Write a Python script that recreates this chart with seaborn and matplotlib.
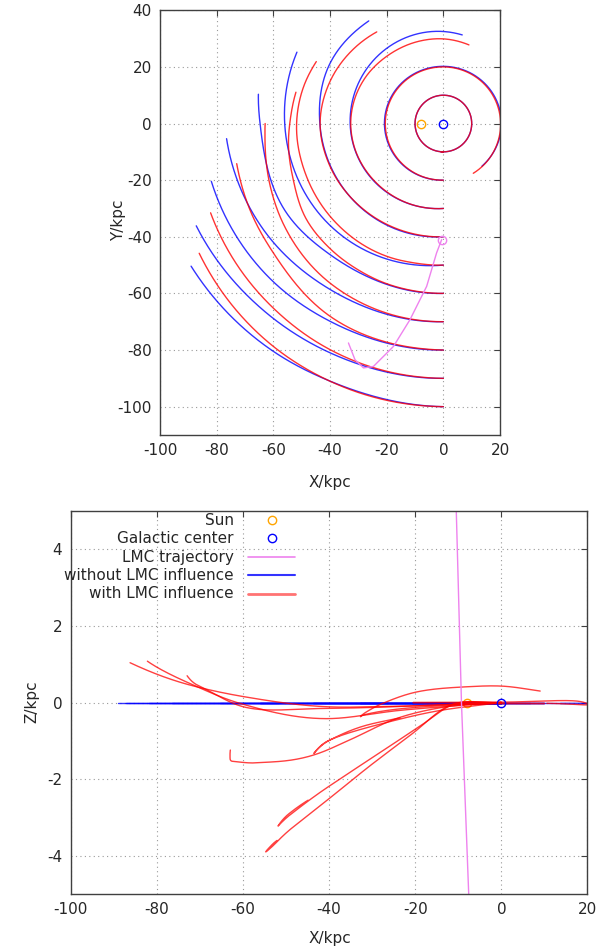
import numpy as np
import pandas as pd
import matplotlib
matplotlib.use("Agg")
import matplotlib.pyplot as plt
import seaborn as sns

# ---------------- data ----------------
orbit_R = [10, 20, 30, 40, 50, 60, 70, 80, 90, 100]

# orbits without LMC influence: polar control points (angle deg, radius kpc)
blue_theta = {10: [270, -95], 20: [270, 180, 90, 0, -48], 30: [270, 180, 90, 78],
              40: [270, 180, 152, 126], 50: [270, 219, 180, 154],
              60: [270, 229, 210, 180, 171], 70: [270, 235, 210, 184],
              80: [270, 240, 223, 194], 90: [270, 244, 227, 202.5],
              100: [270, 246, 233, 209.5]}
blue_r = {10: [10, 10], 20: [20, 20.8, 20.2, 20.5, 20.3], 30: [30, 32.9, 32.5, 32.0],
          40: [40, 43.6, 45.3, 44.8], 50: [50, 54, 56, 57.5],
          60: [60, 61.2, 63.7, 64.7, 66.1], 70: [70, 71, 73.8, 76.7],
          80: [80, 80.5, 82, 84.4], 90: [90, 90.3, 91.5, 94.4],
          100: [100, 99.4, 100.4, 102.3]}

# orbits with LMC influence: angle, radius and height Z
red_theta = {10: [270, -95], 20: [270, 180, 90, 30, 0, -59],
             30: [270, 225, 190, 180, 165, 150, 129, 106, 90, 72],
             40: [270, 250, 225, 200, 180, 160, 140, 126],
             50: [270, 256, 250, 219, 200, 180, 165, 154],
             60: [270, 258, 250, 240, 228, 215, 200, 188, 178, 168],
             70: [270, 260, 250, 240, 233, 213, 200, 188, 185, 180],
             80: [270, 240, 217, 205, 195, 191],
             90: [270, 255, 243, 227, 215, 201],
             100: [270, 255, 246, 233, 223, 208]}
red_r = {10: [10, 10], 20: [20, 20.5, 20, 20.1, 20.2, 20.5],
         30: [30, 31.5, 32.6, 32.7, 32.5, 32, 31, 30.3, 29.9, 29.2],
         40: [40, 40.5, 41.5, 42.8, 43.5, 42.7, 41.2, 40],
         50: [50, 50.4, 50.8, 51.7, 51.8, 51.8, 51, 49.9],
         60: [60, 60, 60, 59.8, 59.6, 59, 56.5, 55.2, 54, 53.2],
         70: [70, 70, 69.8, 69.4, 69, 66.8, 65, 63.5, 63.2, 62.9],
         80: [80, 79, 75.4, 74.8, 74.4, 74.3],
         90: [90, 89.7, 89.3, 88.6, 88.3, 88],
         100: [100, 99.7, 99.4, 99, 98.5, 97.6]}
red_z = {10: [0, 0], 20: [0, 0, 0.01, 0.04, -0.05, -0.02],
         30: [0, -0.15, -0.33, -0.37, -0.25, -0.03, 0.28, 0.41, 0.43, 0.3],
         40: [0, -0.2, -0.6, -1.0, -1.33, -1.0, -0.6, -0.4],
         50: [0, -0.1, -0.5, -2.2, -2.9, -3.22, -2.9, -2.55],
         60: [0, -0.1, -0.8, -1.6, -2.5, -3.25, -3.75, -3.9, -3.8, -3.6],
         70: [0, -0.1, -0.4, -0.95, -1.29, -1.57, -1.55, -1.5, -1.46, -1.24],
         80: [0, -0.15, -0.1, 0.3, 0.56, 0.7],
         90: [0, -0.2, -0.42, -0.03, 0.5, 1.08],
         100: [0, -0.1, -0.11, 0.15, 0.45, 1.04]}

# LMC trajectory
lmc_x = [-0.6, -2.4, -5.9, -11.8, -17.6, -24.7, -28.2, -31.2, -33.5]
lmc_y = [-41, -45.7, -57.5, -69.3, -78.7, -85.8, -86.3, -83.4, -77.5]
lmc_xz_x = [-10.5, -9.25, -7.5]
lmc_xz_z = [5.2, 0.0, -5.2]

sun_xyz = (-8.0, 0.0, 0.0)
gc_xyz = (0.0, 0.0, 0.0)

legend_labels = ["Sun", "Galactic center", "LMC trajectory",
                 "without LMC influence", "with LMC influence"]


# ---------------- helpers ----------------
def hermite(x, xp, fp):
    xp = np.asarray(xp, float)
    fp = np.asarray(fp, float)
    if len(xp) > 2:
        m = np.gradient(fp, xp)
    else:
        m = np.full(len(xp), (fp[1] - fp[0]) / (xp[1] - xp[0]))
    idx = np.clip(np.searchsorted(xp, x) - 1, 0, len(xp) - 2)
    h = xp[idx + 1] - xp[idx]
    t = (x - xp[idx]) / h
    h00 = 2 * t**3 - 3 * t**2 + 1
    h10 = t**3 - 2 * t**2 + t
    h01 = -2 * t**3 + 3 * t**2
    h11 = t**3 - t**2
    return h00 * fp[idx] + h10 * h * m[idx] + h01 * fp[idx + 1] + h11 * h * m[idx + 1]


def build(th_c, r_c, z_c=None, n=700):
    th = np.linspace(th_c[0], th_c[-1], n)
    tc = np.array(th_c[::-1], float)
    r = hermite(th, tc, np.array(r_c[::-1], float))
    z = np.zeros_like(th) if z_c is None else hermite(th, tc, np.array(z_c[::-1], float))
    rad = np.deg2rad(th)
    return r * np.cos(rad), r * np.sin(rad), z


frames = []
for R in orbit_R:
    x, y, z = build(blue_theta[R], blue_r[R])
    frames.append(pd.DataFrame({"X": x, "Y": y, "Z": z, "orbit": R, "kind": "without"}))
    x, y, z = build(red_theta[R], red_r[R], red_z[R])
    frames.append(pd.DataFrame({"X": x, "Y": y, "Z": z, "orbit": R, "kind": "with"}))
df = pd.concat(frames, ignore_index=True)
df_blue = df[df.kind == "without"]
df_red = df[df.kind == "with"]

lmc_top = pd.DataFrame({"X": lmc_x, "Y": lmc_y})
lmc_side = pd.DataFrame({"X": lmc_xz_x, "Z": lmc_xz_z})

# ---------------- style ----------------
sns.set_style("white")
plt.rcParams["font.family"] = ["DejaVu Sans"]
plt.rcParams["font.size"] = 11
plt.rcParams["axes.unicode_minus"] = False

BLUE = "#0000ff"
RED = "#ff0000"
PINK = "#ee82ee"
ORANGE = "#ffa500"
TXT = "#262626"

fig = plt.figure(figsize=(5.98, 9.51), dpi=100)
ax1 = fig.add_axes([0.2676, 0.5426, 0.5686, 0.4466])
ax2 = fig.add_axes([0.1179, 0.0599, 0.8645, 0.4027])


def style(ax):
    ax.grid(True, linestyle=(0, (1, 3)), color="#999999", linewidth=0.8)
    ax.set_axisbelow(True)
    for s in ax.spines.values():
        s.set_color("#404040")
        s.set_linewidth(1.0)
    ax.tick_params(direction="in", top=True, right=True, length=4.5, width=0.8,
                   pad=6, labelsize=11, colors="#404040", labelcolor=TXT)


# ---------------- top panel: X-Y ----------------
sns.lineplot(data=df_blue, x="X", y="Y", units="orbit", estimator=None, sort=False,
             color=BLUE, lw=1.0, alpha=0.8, ax=ax1, legend=False)
sns.lineplot(data=df_red, x="X", y="Y", units="orbit", estimator=None, sort=False,
             color=RED, lw=1.0, alpha=0.8, ax=ax1, legend=False)
sns.lineplot(data=lmc_top, x="X", y="Y", estimator=None, sort=False,
             color=PINK, lw=1.0, ax=ax1, legend=False)
ax1.plot([sun_xyz[0]], [sun_xyz[1]], "o", mfc="none", mec=ORANGE, ms=6, mew=1)
ax1.plot([gc_xyz[0]], [gc_xyz[1]], "o", mfc="none", mec=BLUE, ms=6, mew=1)
ax1.plot([lmc_x[0]], [lmc_y[0]], "o", mfc="none", mec=PINK, ms=6, mew=1)

ax1.set_xlim(-100, 20)
ax1.set_ylim(-110, 40)
ax1.set_xticks(np.arange(-100, 21, 20))
ax1.set_yticks(np.arange(-100, 41, 20))
style(ax1)
ax1.set_xlabel("X/kpc", color=TXT, fontsize=11)
ax1.set_ylabel("Y/kpc", color=TXT, fontsize=11)
ax1.xaxis.set_label_coords(0.5, -0.094)
ax1.yaxis.set_label_coords(-0.1, 0.506)

# ---------------- bottom panel: X-Z ----------------
sns.lineplot(data=df_blue, x="X", y="Z", units="orbit", estimator=None, sort=False,
             color=BLUE, lw=1.0, alpha=0.8, ax=ax2, legend=False)
sns.lineplot(data=df_red, x="X", y="Z", units="orbit", estimator=None, sort=False,
             color=RED, lw=1.0, alpha=0.75, ax=ax2, legend=False)
sns.lineplot(data=lmc_side, x="X", y="Z", estimator=None, sort=False,
             color=PINK, lw=1.0, ax=ax2, legend=False)
ax2.plot([sun_xyz[0]], [sun_xyz[2]], "o", mfc="none", mec=ORANGE, ms=6, mew=1, zorder=1)
ax2.plot([gc_xyz[0]], [gc_xyz[2]], "o", mfc="none", mec=BLUE, ms=6, mew=1)

ax2.set_xlim(-100, 20)
ax2.set_ylim(-5, 5)
ax2.set_xticks(np.arange(-100, 21, 20))
ax2.set_yticks([-4, -2, 0, 2, 4])
style(ax2)
ax2.set_xlabel("X/kpc", color=TXT, fontsize=11)
ax2.set_ylabel("Z/kpc", color=TXT, fontsize=11)
ax2.xaxis.set_label_coords(0.502, -0.097)
ax2.yaxis.set_label_coords(-0.061, 0.501)

# gnuplot-style key (text right-aligned, sample on the right)
key_y = [0.9765, 0.929, 0.879, 0.832, 0.784]
tx = 0.316
for lab, ky in zip(legend_labels, key_y):
    ax2.text(tx, ky, lab, transform=ax2.transAxes, ha="right", va="center",
             fontsize=11, color=TXT)
ax2.plot([0.389], [key_y[0]], "o", mfc="none", mec=ORANGE, ms=6, mew=1, transform=ax2.transAxes)
ax2.plot([0.389], [key_y[1]], "o", mfc="none", mec=BLUE, ms=6, mew=1, transform=ax2.transAxes)
ax2.plot([0.343, 0.434], [key_y[2]] * 2, color=PINK, lw=1.2, transform=ax2.transAxes)
ax2.plot([0.343, 0.434], [key_y[3]] * 2, color=BLUE, lw=1.5, alpha=0.8, transform=ax2.transAxes)
ax2.plot([0.343, 0.434], [key_y[4]] * 2, color=RED, lw=2.0, alpha=0.55, transform=ax2.transAxes)

fig.savefig("out.png", dpi=100)
